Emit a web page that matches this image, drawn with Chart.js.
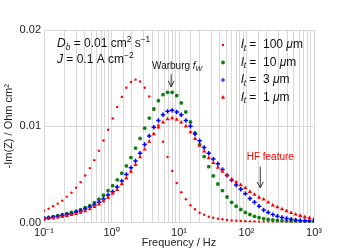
<!DOCTYPE html>
<html>
<head>
<meta charset="utf-8">
<script src="https://cdn.jsdelivr.net/npm/chart.js@4/dist/chart.umd.min.js"></script>
<style>
  html, body { margin: 0; padding: 0; background: #fff; }
  #wrap { width: 350px; height: 250px; }
</style>
</head>
<body>
<div id="wrap"><canvas id="chart" width="350" height="250"></canvas></div>
<script>
// frequency grid, 0.1 .. 1000 Hz (log spaced)
const freqHz = [0.1, 0.1169, 0.1367, 0.1597, 0.1867, 0.2183, 0.2551, 0.2983, 0.3487, 0.4076,
    0.4765, 0.5570, 0.6511, 0.7610, 0.8896, 1.040, 1.216, 1.421, 1.661, 1.942,
    2.270, 2.653, 3.101, 3.625, 4.238, 4.954, 5.791, 6.769, 7.913, 9.250,
    10.81, 12.64, 14.77, 17.27, 20.19, 23.60, 27.58, 32.24, 37.69, 44.06,
    51.50, 60.20, 70.37, 82.26, 96.17, 112.4, 131.4, 153.6, 179.6, 209.9,
    245.4, 286.8, 335.3, 391.9, 458.1, 535.5, 626.0, 731.8, 855.4, 1000];

// -Im(Z) in Ohm cm2
const lt100 = [0.00123, 0.00144, 0.00169, 0.00196, 0.00227, 0.00269, 0.00310, 0.00362, 0.00419, 0.00488,
    0.00565, 0.00648, 0.00745, 0.00852, 0.00964, 0.01081, 0.01200, 0.01305, 0.01400, 0.01460,
    0.01484, 0.01465, 0.01400, 0.01310, 0.01170, 0.01010, 0.00840, 0.00680, 0.00535, 0.00410,
    0.00315, 0.00242, 0.00179, 0.00138, 0.00102, 0.00081, 0.00060, 0.00050, 0.00040, 0.00033,
    0.00026, 0.00022, 0.00019, 0.00016, 0.00014, 0.00012, 0.00010, 0.00009, 0.00008, 0.00007,
    0.00006, 0.00005, 0.00004, 0.00004, 0.00003, 0.00003, 0.00002, 0.00002, 0.00002, 0.00001];

const lt10 = [0.00047, 0.00054, 0.00062, 0.00071, 0.00081, 0.00092, 0.00104, 0.00118, 0.00134, 0.00153,
    0.00176, 0.00205, 0.00242, 0.00284, 0.00331, 0.00383, 0.00443, 0.00512, 0.00588, 0.00675,
    0.00773, 0.00873, 0.00980, 0.01085, 0.01180, 0.01266, 0.01328, 0.01352, 0.01352, 0.01318,
    0.01242, 0.01148, 0.01044, 0.00930, 0.00810, 0.00685, 0.00580, 0.00484, 0.00400, 0.00332,
    0.00265, 0.00210, 0.00170, 0.00135, 0.00105, 0.00083, 0.00064, 0.00050, 0.00040, 0.00032,
    0.00026, 0.00021, 0.00017, 0.00014, 0.00011, 0.00009, 0.00007, 0.00006, 0.00005, 0.00004];

const lt3 = [0.00042, 0.00048, 0.00056, 0.00064, 0.00073, 0.00082, 0.00092, 0.00106, 0.00120, 0.00140,
    0.00160, 0.00182, 0.00210, 0.00245, 0.00285, 0.00320, 0.00370, 0.00430, 0.00500, 0.00570,
    0.00640, 0.00720, 0.00810, 0.00900, 0.00990, 0.01060, 0.01120, 0.01155, 0.01165, 0.01148,
    0.01120, 0.01060, 0.01000, 0.00920, 0.00850, 0.00780, 0.00720, 0.00660, 0.00610, 0.00550,
    0.00490, 0.00440, 0.00390, 0.00345, 0.00300, 0.00250, 0.00210, 0.00170, 0.00130, 0.00105,
    0.00082, 0.00066, 0.00052, 0.00042, 0.00034, 0.00027, 0.00022, 0.00018, 0.00015, 0.00012];

const lt1 = [0.00034, 0.00040, 0.00046, 0.00053, 0.00060, 0.00069, 0.00079, 0.00090, 0.00104, 0.00120,
    0.00140, 0.00163, 0.00190, 0.00224, 0.00260, 0.00300, 0.00340, 0.00400, 0.00460, 0.00530,
    0.00600, 0.00680, 0.00760, 0.00840, 0.00920, 0.00990, 0.01040, 0.01075, 0.01085, 0.01070,
    0.01040, 0.01000, 0.00940, 0.00870, 0.00800, 0.00740, 0.00670, 0.00620, 0.00570, 0.00530,
    0.00490, 0.00450, 0.00420, 0.00390, 0.00360, 0.00320, 0.00290, 0.00260, 0.00240, 0.00210,
    0.00180, 0.00160, 0.00140, 0.00120, 0.00100, 0.00085, 0.00070, 0.00057, 0.00047, 0.00038];

const xTickValues = [0.1, 1, 10, 100, 1000];
const xTickLabels = ['10\u207B\u00B9', '10\u2070', '10\u00B9', '10\u00B2', '10\u00B3'];
const seriesNames = ['100', '10', '3', '1'];

const FONT = '"Liberation Sans", Arial, sans-serif';
const red = '#ff0000', green = '#108010', blue = '#0000ff';

const toXY = (vals) => vals.map((v, i) => ({ x: freqHz[i], y: v }));

// draw a string made of pieces: [text, italic, 'sub' | 'sup' | '']
function drawRich(ctx, parts, x, y, size, color, align) {
    ctx.save();
    ctx.fillStyle = color;
    ctx.textBaseline = 'middle';
    ctx.textAlign = 'left';
    const fontOf = (p) => (p[1] ? 'italic ' : '') + (p[2] ? size * 0.7 : size) + 'px ' + FONT;
    let w = 0;
    parts.forEach(p => { ctx.font = fontOf(p); w += ctx.measureText(p[0]).width; });
    let cx = align === 'center' ? x - w / 2 : x;
    parts.forEach(p => {
        ctx.font = fontOf(p);
        const dy = p[2] === 'sub' ? size * 0.28 : p[2] === 'sup' ? -size * 0.38 : 0;
        ctx.fillText(p[0], cx, y + dy);
        cx += ctx.measureText(p[0]).width;
    });
    ctx.restore();
}

function arrowDown(ctx, x, y1, y2) {
    ctx.save();
    ctx.strokeStyle = '#333';
    ctx.lineWidth = 1;
    ctx.beginPath();
    ctx.moveTo(x, y1); ctx.lineTo(x, y2);
    ctx.moveTo(x - 3, y2 - 6); ctx.lineTo(x, y2); ctx.lineTo(x + 3, y2 - 6);
    ctx.stroke();
    ctx.restore();
}

const notes = {
    id: 'notes',
    afterDatasetsDraw(chart) {
        const ctx = chart.ctx;
        const xs = chart.scales.x, ys = chart.scales.y;

        drawRich(ctx, [['D', true, ''], ['b', true, 'sub'], [' = 0.01 cm', false, ''], ['2', false, 'sup'],
            [' s', false, ''], ['\u22121', false, 'sup']], 57, 44, 12, '#111');
        drawRich(ctx, [['J', true, ''], [' = 0.1 A cm', false, ''], ['\u22122', false, 'sup']], 57, 60, 12, '#111');

        // Warburg peak marker
        const wx = xs.getPixelForValue(7.65);
        drawRich(ctx, [['Warburg ', false, ''], ['f', true, ''], ['W', true, 'sub']], wx + 6, 66, 10, '#111', 'center');
        arrowDown(ctx, wx, ys.getPixelForValue(0.0154), ys.getPixelForValue(0.0141));

        // high frequency feature
        const hx = xs.getPixelForValue(160);
        drawRich(ctx, [['HF feature', false, '']], hx + 10, 157, 10, red, 'center');
        arrowDown(ctx, hx, ys.getPixelForValue(0.0058), ys.getPixelForValue(0.0036));

        // legend
        chart.data.datasets.forEach((ds, i) => {
            const y = 45 + i * 17.5;
            ctx.save();
            ctx.fillStyle = ds.backgroundColor;
            ctx.strokeStyle = ds.borderColor;
            Chart.helpers.drawPoint(ctx, {
                pointStyle: ds.pointStyle, radius: ds.pointRadius,
                rotation: 0, borderWidth: ds.borderWidth
            }, 223, y);
            ctx.restore();
            drawRich(ctx, [['l', true, ''], ['t', true, 'sub'], [' =  ' + seriesNames[i] + ' ', false, ''],
                ['\u03BC', true, ''], ['m', false, '']], 241, y, 12, '#111');
        });
    }
};

Chart.defaults.font.family = FONT;
Chart.defaults.color = '#222';

new Chart(document.getElementById('chart'), {
    type: 'scatter',
    data: {
        datasets: [
            { label: 'lt = 100 \u03BCm', data: toXY(lt100), pointStyle: 'circle', pointRadius: 1.2,
              backgroundColor: red, borderColor: red, borderWidth: 0, order: 4 },
            { label: 'lt = 10 \u03BCm', data: toXY(lt10), pointStyle: 'circle', pointRadius: 1.9,
              backgroundColor: green, borderColor: green, borderWidth: 0, order: 3 },
            { label: 'lt = 3 \u03BCm', data: toXY(lt3), pointStyle: 'cross', pointRadius: 2.2,
              backgroundColor: blue, borderColor: blue, borderWidth: 1.5, order: 2 },
            { label: 'lt = 1 \u03BCm', data: toXY(lt1), pointStyle: 'triangle', pointRadius: 2.4,
              backgroundColor: red, borderColor: red, borderWidth: 0, order: 1 }
        ]
    },
    options: {
        responsive: false,
        animation: false,
        devicePixelRatio: 1,
        layout: { padding: { left: 0, right: 36, top: 30, bottom: 0 } },
        plugins: { legend: { display: false }, tooltip: { enabled: false } },
        scales: {
            x: {
                type: 'logarithmic', min: 0.1, max: 1000,
                grid: { color: '#d8d8d8', drawTicks: false },
                border: { color: '#d8d8d8' },
                ticks: {
                    autoSkip: false, maxRotation: 0, padding: 4,
                    font: { size: 11 }, color: '#222',
                    callback: (v) => {
                        const idx = xTickValues.findIndex(t => Math.abs(t - v) / t < 1e-6);
                        return idx >= 0 ? xTickLabels[idx] : '';
                    }
                },
                title: { display: true, text: 'Frequency / Hz', font: { size: 11 }, color: '#222',
                         padding: { top: 0, bottom: 0 } },
                afterFit: (s) => { s.height = 27.5; }
            },
            y: {
                min: 0, max: 0.02,
                grid: { color: '#d8d8d8', drawTicks: false },
                border: { color: '#d8d8d8' },
                ticks: { stepSize: 0.01, padding: 3, font: { size: 11 }, color: '#222',
                         callback: (v) => v.toFixed(2) },
                title: { display: true, text: '-Im(Z) / Ohm cm\u00B2', font: { size: 11 }, color: '#222',
                         padding: { top: 2, bottom: 1 } },
                afterFit: (s) => { s.width = 44; }
            }
        }
    },
    plugins: [notes]
});
</script>
</body>
</html>
